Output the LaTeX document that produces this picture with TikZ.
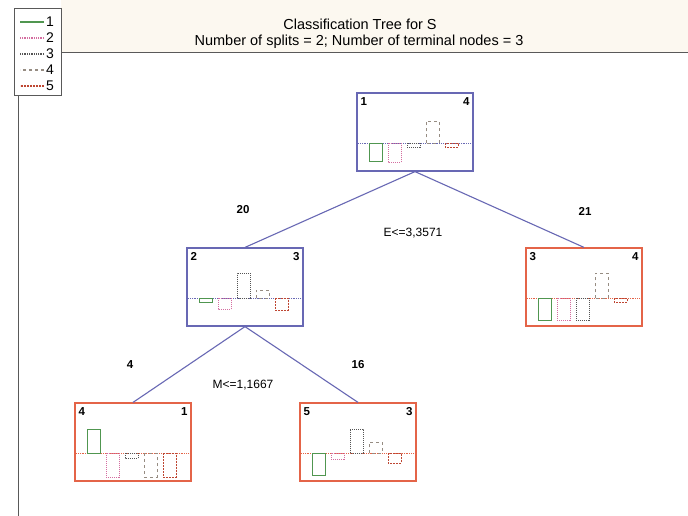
\documentclass[tikz,border=0pt]{standalone}
\usepackage{fontspec}
\setmainfont{Liberation Sans}
\usepackage{tikz}
\usetikzlibrary{positioning}
\definecolor{trblue}{RGB}{104,104,180}
\definecolor{trred}{RGB}{228,100,72}
\definecolor{cgreen}{RGB}{80,150,80}
\definecolor{cpink}{RGB}{212,110,160}
\definecolor{cgray}{RGB}{85,85,85}
\definecolor{ctan}{RGB}{150,140,130}
\definecolor{cred}{RGB}{190,70,50}
\definecolor{titlebg}{RGB}{252,248,240}

\begin{document}
\begin{tikzpicture}[x=1pt, y=-1pt,
        splitbox/.style={draw=trblue, line width=1.2pt, minimum width=116pt,
                         minimum height=78pt, inner sep=0pt},
        leafbox/.style={splitbox, draw=trred},
        boxnum/.style={font=\fontsize{11.5}{13}\selectfont\bfseries, inner sep=0pt},
        cnt/.style={font=\fontsize{11.5}{13}\selectfont\bfseries, inner sep=0pt},
        rule/.style={font=\fontsize{12}{14}\selectfont, inner sep=0pt},
        keynum/.style={font=\fontsize{14}{16}\selectfont, text=black, inner sep=0pt},
        link/.style={trblue, line width=1.1pt},
        frame/.style={draw=black!65, line width=1pt},
        c1/.style={draw=cgreen, line width=1pt},
        c2/.style={draw=cpink, densely dotted, line width=1pt},
        c3/.style={draw=cgray, densely dotted, line width=1pt},
        c4/.style={draw=ctan, dashed, line width=1pt},
        c5/.style={draw=cred, dash pattern=on 2pt off 1pt, line width=1pt}
      ]
      \useasboundingbox (0,0) rectangle (688,516);
      \fill[white] (0,0) rectangle (688,516);
      \fill[titlebg] (61,0) rectangle (688,53);

      \node[font=\fontsize{14.5}{16}\selectfont] (title1) at (360,24) {Classification Tree for S};
      \node[font=\fontsize{14.5}{16}\selectfont] (title2) at (359,42)
        {Number of splits = 2; Number of terminal nodes = 3};

      \node[frame, minimum width=47pt, minimum height=87pt, inner sep=0pt] (legend) at (37.5,52.5) {};
      \coordinate (axbot) at (18,516);
      \coordinate (hend) at (688,53);
      \draw[frame] (legend.south west -| axbot) -- (axbot);
      \draw[frame] (legend.east |- hend) -- (hend);
      \foreach \i in {1,...,5} {
        \node[keynum, anchor=west] (key\i) at (46,6+16*\i) {\i};
        \path[c\i, line width=1.3pt] ([xshift=-2pt]key\i.west) -- ++(-24,0);
      }

      \node[splitbox] (n1) at (415,132) {};
      \node[splitbox] (n2) at (245,287) {};
      \node[leafbox] (n3) at (584,287) {};
      \node[leafbox] (n4) at (133,442) {};
      \node[leafbox] (n5) at (358,442) {};

      \draw[link] (n1.south) -- (n2.north);
      \draw[link] (n1.south) -- (n3.north);
      \draw[link] (n2.south) -- (n4.north);
      \draw[link] (n2.south) -- (n5.north);

      \foreach \n/\a/\b in {n1/1/4, n2/2/3, n3/3/4, n4/4/1, n5/5/3} {
        \node[boxnum, below right=5pt and 4pt of \n.north west] (\n-a) {\a};
        \node[boxnum, below left=5pt and 4pt of \n.north east] (\n-b) {\b};
      }

      \foreach \n/\col/\hs in {n1/trblue/{-18,-19,-4,22,-4}, n2/trblue/{-4,-11,25,8,-12},
                               n3/trred/{-22,-22,-22,25,-4}, n4/trred/{24,-24,-5,-24,-24},
                               n5/trred/{-22,-6,24,11,-10}} {
        \draw[\col, densely dotted, line width=0.8pt]
          ([yshift=-51pt]\n.north west) -- ([yshift=-51pt]\n.north east);
        \foreach \h [count=\i] in \hs
          \path[c\i] ([shift={(-6+19*\i,51)}]\n.north west) rectangle ++(13,{-1*(\h)});
      }

      \node[cnt] (w20) at (243,210) {20};
      \node[cnt] (w21) at (585,211) {21};
      \node[rule] (r1) at (413,233) {E<=3,3571};
      \node[cnt] (w4) at (130,365) {4};
      \node[cnt] (w16) at (358,365) {16};
      \node[rule] (r2) at (243,385) {M<=1,1667};
    \end{tikzpicture}
\end{document}
